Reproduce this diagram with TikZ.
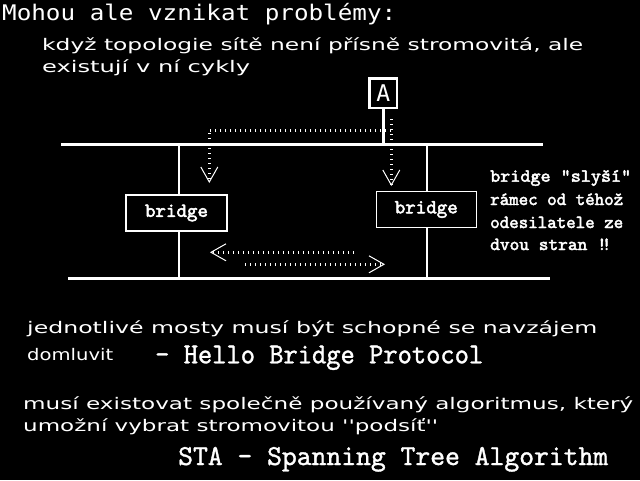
\documentclass[tikz,border=0pt]{standalone}
\usepackage{fontspec}
\usepackage{graphicx}
\usetikzlibrary{arrows.meta}
\newfontfamily\pixsans{DejaVu Sans}[Ligatures=TeXOff]
\newfontfamily\pixmono{DejaVu Sans Mono}[Ligatures=TeXOff]
\newfontfamily\ttheavy{lmmono10-regular}[Extension=.otf, FakeBold=2.5, Ligatures=TeXOff]
\newfontfamily\ttmid{lmmono10-regular}[Extension=.otf, FakeBold=1.2, Ligatures=TeXOff]
\newcommand\fitw[2]{\resizebox{#1}{\height}{#2}}
\tikzset{
  txt/.style={anchor=base west, inner sep=0pt, text=white},
  smalltxt/.style={txt, font=\pixsans\fontsize{16}{18}\selectfont},
  bigmono/.style={txt, font=\ttmid\fontsize{29}{32}\selectfont},
  sidetxt/.style={txt, font=\ttheavy\fontsize{18.5}{20}\selectfont},
  bus/.style={draw=white, line width=3pt},
  stem/.style={draw=white, line width=2pt},
  bridgebox/.style={draw=white, line width=1.2pt, fill=black, text=white,
    font=\ttheavy\fontsize{20}{22}\selectfont, inner sep=0pt},
  stationbox/.style={draw=white, line width=2.7pt, fill=black, text=white,
    font=\pixmono\fontsize{23}{24}\selectfont, inner sep=0pt},
  flow/.style={draw=white, line width=3pt, dash pattern=on 1pt off 4pt,
    -{Straight Barb[length=15pt,width=17pt,line width=1pt]}},
}
\begin{document}
\begin{tikzpicture}[x=1pt,y=-1pt]
\useasboundingbox (0,0) rectangle (640,480);
\fill[black] (0,0) rectangle (640,480);

% texts top
\node[txt, font=\pixmono\fontsize{21.5}{24}\selectfont] (title) at (2,20.7)
  {\fitw{394pt}{Mohou ale vznikat problémy:}};
\node[smalltxt] (l1) at (42,50.5)
  {\fitw{541pt}{když topologie sítě není přísně stromovitá, ale}};
\node[smalltxt] (l2) at (42,72.7) {\fitw{208pt}{existují v ní cykly}};

% buses
\coordinate (topL) at (61,144);
\coordinate (topR) at (543,144);
\coordinate (botL) at (68,278);
\coordinate (botR) at (550,278);
\draw[bus] (topL) -- (topR);
\draw[bus] (botL) -- (botR);

% station A
\node[stationbox, minimum width=27.4pt, minimum height=29.4pt] (A) at (383.3,93.3) {A};
\draw[bus] (A.south) -- (A.south |- topL);

% bridges
\coordinate (s1) at (179,144);
\coordinate (s2) at (426.7,144);
\node[bridgebox, minimum width=101pt, minimum height=36pt] (B1) at (176.5,213) {bridge};
\node[bridgebox, minimum width=100.3pt, minimum height=35.8pt] (B2) at (426.3,209.5) {bridge};
\draw[stem] (s1) -- (s1 |- B1.north);
\draw[stem] (s1 |- B1.south) -- (s1 |- botL);
\draw[stem] (s2) -- (s2 |- B2.north);
\draw[stem] (s2 |- B2.south) -- (s2 |- botL);

% frame flows
\coordinate (f1s) at (391.3,130.3);
\coordinate (f1c) at (209.3,130.3);
\coordinate (f1e) at (209.3,183);
\coordinate (f2s) at (391.3,119);
\coordinate (f2e) at (391.3,186);
\coordinate (f3s) at (354,252.3);
\coordinate (f3e) at (210,252.3);
\coordinate (f4s) at (245,264.3);
\coordinate (f4e) at (385,264.3);
\draw[flow] (f1s) -- (f1c) -- (f1e);
\draw[flow] (f2s) -- (f2e);
\draw[flow] (f3s) -- (f3e);
\draw[flow] (f4s) -- (f4e);

% side note
\node[sidetxt] (n1) at (490,181.7) {\fitw{141pt}{bridge "slyší"}};
\node[sidetxt] (n2) at (490,205) {\fitw{133pt}{rámec od téhož}};
\node[sidetxt] (n3) at (490,228) {\fitw{133pt}{odesilatele ze}};
\node[sidetxt] (n4) at (490,250) {dvou stran !\kern-5pt!};

% bottom texts
\node[smalltxt] (j1) at (27,333)
  {\fitw{570pt}{jednotlivé mosty musí být schopné se navzájem}};
\node[smalltxt] (j2) at (27,360) {\fitw{86pt}{domluvit}};
\node[bigmono] (hbp) at (155,363.3) {\fitw{328pt}{— Hello Bridge Protocol}};
\node[smalltxt] (m1) at (23,409)
  {\fitw{610pt}{musí existovat společně používaný algoritmus, který}};
\node[smalltxt] (m2) at (23,431.7)
  {\fitw{415pt}{umožní vybrat stromovitou ''podsíť''}};
\node[bigmono] (sta) at (178,465) {\fitw{430pt}{STA — Spanning Tree Algorithm}};
\end{tikzpicture}
\end{document}
